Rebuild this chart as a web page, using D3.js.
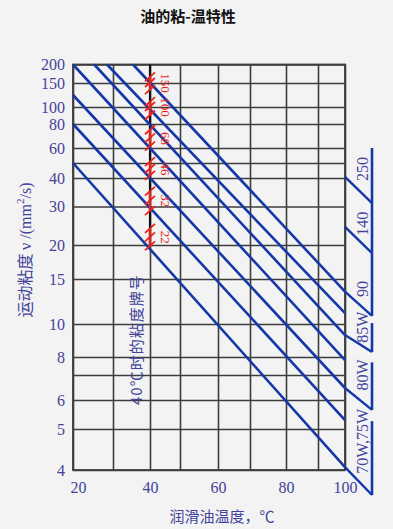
<!DOCTYPE html>
<html>
<head>
<meta charset="utf-8">
<script src="https://cdn.jsdelivr.net/npm/d3@7"></script>
<style>
  body { margin: 0; background: #f3f3f3; }
</style>
</head>
<body>
<div id="chart"></div>
<script>
// temperature grid (degC) and labels
const tempTicks = [20, 30, 40, 50, 60, 70, 80, 90, 100];
const tempLabels = [20, 40, 60, 80, 100];

// viscosity grid (mm2/s) and labels
const viscTicks = [4, 5, 6, 7, 8, 10, 15, 20, 30, 40, 50, 60, 80, 100, 150, 200];
const viscLabels = [4, 5, 6, 8, 10, 15, 20, 30, 40, 60, 80, 100, 150, 200];

// oil lines, [temp, viscosity] at both ends
const lineStart = [[35.4, 200], [28.5, 200], [25.3, 200], [20, 200], [20, 125], [20, 80], [20, 50]];
const lineEnd = [[100, 13.6], [100, 11.2], [100, 9.33], [100, 7.83], [100, 6.48], [100, 5.31], [100, 4.07]];

// ISO VG grades at 40 degC
const vgGrades = [22, 32, 46, 68, 100, 150];
const vgMin = [19.8, 28.8, 41.4, 61.2, 90, 135];
const vgMax = [24.2, 35.2, 50.6, 74.8, 110, 165];

// SAE gear oil grades (viscosity at 100 degC)
const saeNames = ["250", "140", "90", "85W", "80W", "70W,75W"];
const saeTop = [60, 31.2, 18.8, 10.1, 7.7, 5.27];
const saeBottom = [31.2, 18.8, 10.9, 8.3, 5.66, 3.39];
const saeTickFrom = [40.7, 24.7, 13.6, 9.33, 6.48, 4.07];
const saeLabelAt = [46, 25.5, 13.9, 9.8, 7.0, 4.7];

const W = 393, H = 529;
const gridColor = "#3d3d3d";
const textBlue = "#43439a";
const lineBlue = "#1438a8";
const red = "#e8231c";
const serif = "'Liberation Serif', 'DejaVu Serif', serif";
const cjk = "'Noto Sans CJK SC', sans-serif";

const svg = d3.select("#chart").append("svg")
    .attr("width", W)
    .attr("height", H);

// the paper grid is hand drawn, so both scales are piecewise
const x = d3.scaleLinear()
    .domain(tempTicks)
    .range([73, 113, 150, 180, 218, 250, 286, 318, 345]);

const y = d3.scaleLinear()
    .domain(viscTicks)
    .range([470, 429, 400, 375, 357, 324, 279, 245, 206.5, 178, 163, 148, 124, 107, 83, 64.5]);

const plotW = x(100) - x(20);
const plotH = y(4) - y(200);

// grid + labels through axes
const yAxis = d3.axisLeft(y)
    .tickValues(viscTicks)
    .tickSize(-plotW)
    .tickPadding(8)
    .tickFormat(d => viscLabels.includes(d) ? d : "");

const xAxis = d3.axisBottom(x)
    .tickValues(tempTicks)
    .tickSize(-plotH)
    .tickPadding(12)
    .tickFormat(d => tempLabels.includes(d) ? d : "");

const gy = svg.append("g")
    .attr("transform", "translate(" + x(20) + ",0)")
    .call(yAxis);

const gx = svg.append("g")
    .attr("transform", "translate(0," + y(4) + ")")
    .call(xAxis);

[gx, gy].forEach(g => {
    g.select(".domain").remove();
    g.selectAll(".tick line")
        .attr("stroke", gridColor)
        .attr("stroke-width", 1.6);
    g.selectAll(".tick text")
        .attr("fill", textBlue)
        .attr("font-family", serif)
        .attr("font-size", 16);
});

gx.selectAll(".tick text")
    .filter(d => d === 20)
    .attr("dx", 5);

// frame
svg.append("rect")
    .attr("x", x(20))
    .attr("y", y(200))
    .attr("width", plotW)
    .attr("height", plotH)
    .style("fill", "none")
    .style("stroke", gridColor)
    .style("stroke-width", 1.8);

// heavier 40 degC line where the grades sit
svg.append("line")
    .attr("x1", x(40))
    .attr("x2", x(40))
    .attr("y1", y(200))
    .attr("y2", y(20))
    .style("stroke", "#111")
    .style("stroke-width", 2.2);

// oil lines
const oilLine = d3.line()
    .x(d => x(d[0]))
    .y(d => y(d[1]));

svg.selectAll(".oil")
    .data(lineStart.map((s, i) => [s, lineEnd[i]]))
    .enter().append("path")
    .attr("class", "oil")
    .attr("d", oilLine)
    .style("stroke", lineBlue)
    .style("stroke-width", 2.6)
    .style("fill", "none");

// ISO VG ranges on the 40 degC line
svg.selectAll(".vg")
    .data(vgGrades)
    .enter().append("line")
    .attr("class", "vg")
    .attr("x1", x(40))
    .attr("x2", x(40))
    .attr("y1", (d, i) => y(vgMax[i]))
    .attr("y2", (d, i) => y(vgMin[i]))
    .style("stroke", red)
    .style("stroke-width", 2.4);

const hatchVals = vgGrades.flatMap((d, i) => [vgMin[i], d, vgMax[i]]);

svg.selectAll(".hatch")
    .data(hatchVals)
    .enter().append("line")
    .attr("class", "hatch")
    .attr("x1", x(40) - 5)
    .attr("y1", d => y(d) + 4)
    .attr("x2", x(40) + 5)
    .attr("y2", d => y(d) - 5)
    .style("stroke", red)
    .style("stroke-width", 1.8);

svg.selectAll(".vgLabel")
    .data(vgGrades)
    .enter().append("text")
    .attr("class", "vgLabel")
    .attr("transform", d => "translate(" + (x(40) + 11) + "," + y(d) + ") rotate(90)")
    .attr("text-anchor", "middle")
    .attr("fill", red)
    .attr("font-family", serif)
    .attr("font-size", 13)
    .text(d => d);

svg.append("text")
    .attr("transform", "translate(" + (x(40) - 8) + "," + (y(6) + 5) + ") rotate(-90)")
    .attr("fill", textBlue)
    .attr("font-family", cjk)
    .attr("font-size", 15)
    .attr("letter-spacing", 1)
    .text("40℃时的粘度牌号");

// SAE side scale, placed at 110 on the extended temperature scale
svg.selectAll(".saeBar")
    .data(saeNames)
    .enter().append("line")
    .attr("class", "saeBar")
    .attr("x1", x(110))
    .attr("x2", x(110))
    .attr("y1", (d, i) => y(saeTop[i]))
    .attr("y2", (d, i) => y(saeBottom[i]))
    .style("stroke", lineBlue)
    .style("stroke-width", 2.6);

svg.selectAll(".saeTick")
    .data(saeNames)
    .enter().append("line")
    .attr("class", "saeTick")
    .attr("x1", x(100))
    .attr("y1", (d, i) => y(saeTickFrom[i]))
    .attr("x2", x(110))
    .attr("y2", (d, i) => y(saeBottom[i]))
    .style("stroke", lineBlue)
    .style("stroke-width", 2.4);

svg.selectAll(".saeLabel")
    .data(saeNames)
    .enter().append("text")
    .attr("class", "saeLabel")
    .attr("transform", (d, i) => "translate(" + (x(110) - 4) + "," + y(saeLabelAt[i]) + ") rotate(-90)")
    .attr("text-anchor", "middle")
    .attr("fill", textBlue)
    .attr("font-family", serif)
    .attr("font-size", 16)
    .text(d => d);

// titles
svg.append("text")
    .attr("x", 188)
    .attr("y", 22)
    .attr("text-anchor", "middle")
    .attr("font-family", cjk)
    .attr("font-weight", "bold")
    .attr("font-size", 15)
    .attr("fill", "#111")
    .text("油的粘-温特性");

svg.append("text")
    .attr("x", 222)
    .attr("y", 522)
    .attr("text-anchor", "middle")
    .attr("font-family", cjk)
    .attr("font-size", 15)
    .attr("fill", textBlue)
    .text("润滑油温度，℃");

const yTitle = svg.append("text")
    .attr("transform", "translate(31,250) rotate(-90)")
    .attr("text-anchor", "middle")
    .attr("font-family", cjk)
    .attr("font-size", 16)
    .attr("fill", textBlue);

yTitle.append("tspan").text("运动粘度 ");
yTitle.append("tspan").attr("font-family", serif).text("ν /(mm");
yTitle.append("tspan").attr("font-family", serif).attr("font-size", 11).attr("dy", -7).text("2");
yTitle.append("tspan").attr("font-family", serif).attr("dy", 7).text("/s)");
</script>
</body>
</html>
